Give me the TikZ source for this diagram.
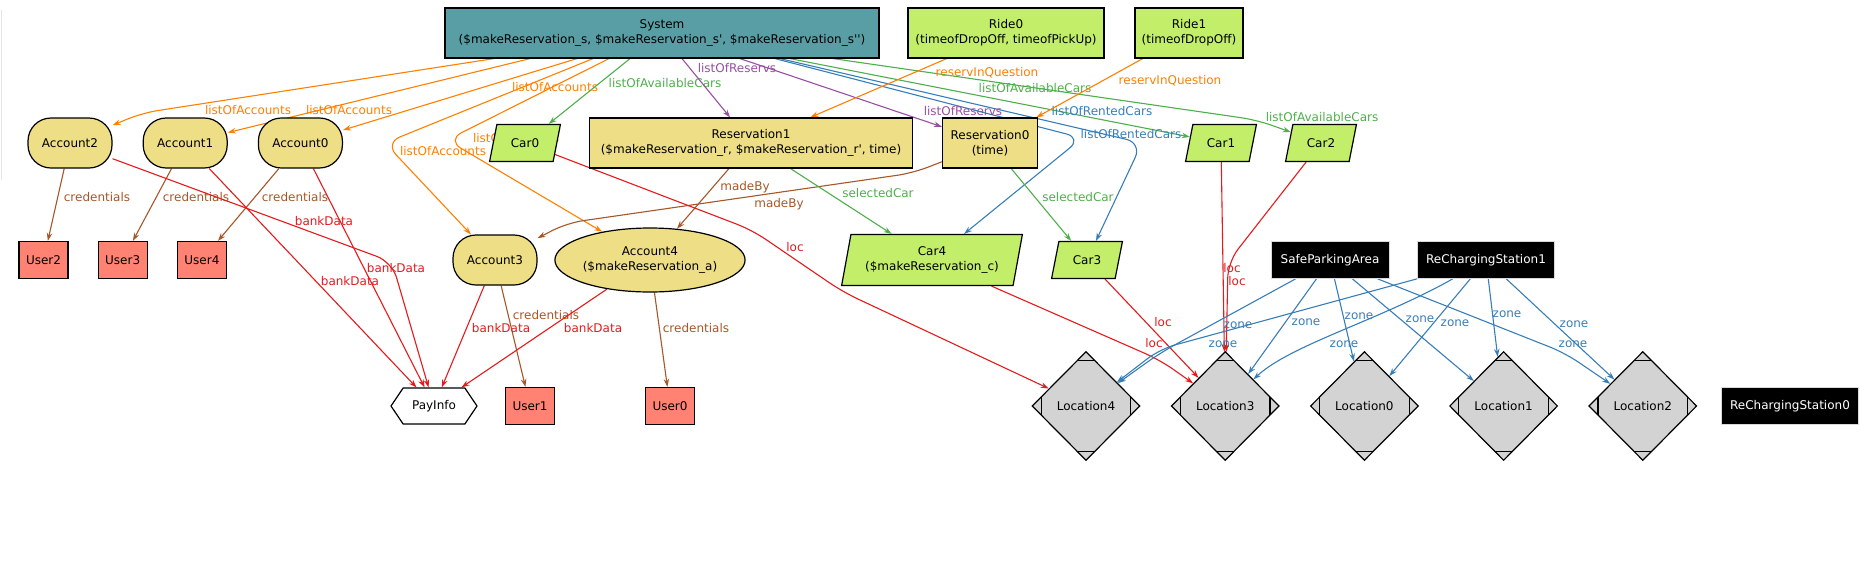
\documentclass[tikz,border=0pt]{standalone}
\usepackage{fontspec}
\setmainfont{DejaVu Sans}[Ligatures=TeXOff]
\usetikzlibrary{shapes.geometric,shapes.symbols,arrows.meta,positioning,backgrounds,calc}

\definecolor{systeal}{RGB}{90,158,165}
\definecolor{limegreen}{RGB}{194,238,106}
\definecolor{khaki}{RGB}{238,222,134}
\definecolor{salmon}{RGB}{255,130,115}
\definecolor{locgray}{RGB}{211,211,211}
\definecolor{eorange}{RGB}{255,127,0}
\definecolor{egreen}{RGB}{77,175,74}
\definecolor{epurple}{RGB}{152,78,163}
\definecolor{eblue}{RGB}{55,126,184}
\definecolor{ered}{RGB}{228,26,28}
\definecolor{ebrown}{RGB}{166,86,40}

\begin{document}
\begin{tikzpicture}[
    x=1pt, y=-1pt,
    font=\fontsize{12}{15}\selectfont,
    obj/.style={draw, line width=1.2pt, align=center, inner sep=2pt},
    sysbox/.style={obj, rectangle, fill=systeal, minimum width=434pt, minimum height=50pt},
    ridebox/.style={obj, rectangle, fill=limegreen, minimum height=50pt},
    resbox/.style={obj, rectangle, fill=khaki, minimum height=50pt},
    acct/.style={obj, rectangle, rounded corners=23pt, fill=khaki, minimum width=84pt, minimum height=50pt, inner sep=0pt},
    userbox/.style={obj, rectangle, fill=salmon, minimum width=49pt, minimum height=37pt, inner sep=0pt},
    carbox/.style={obj, trapezium, trapezium left angle=68, trapezium right angle=112, trapezium stretches=true, fill=limegreen, minimum width=71pt, minimum height=37pt, inner sep=0pt},
    zonebox/.style={rectangle, fill=black, text=white, draw=black!15, line width=0.8pt, minimum height=37pt, inner sep=4pt},
    paybox/.style={obj, signal, signal to=east and west, signal pointer angle=112, fill=white, minimum width=86pt, minimum height=36pt, inner sep=0pt},
    locbox/.style={obj, diamond, fill=locgray, minimum width=108pt, minimum height=109pt, inner sep=0pt,
        path picture={
            \draw[line width=1.2pt] ([yshift=-9pt]path picture bounding box.north) ++(-20pt,0) -- ++(40pt,0);
            \draw[line width=1.2pt] ([yshift=9pt]path picture bounding box.south) ++(-20pt,0) -- ++(40pt,0);
            \draw[line width=1.2pt] ([xshift=9pt]path picture bounding box.west) ++(0,-20pt) -- ++(0,40pt);
            \draw[line width=1.2pt] ([xshift=-9pt]path picture bounding box.east) ++(0,-20pt) -- ++(0,40pt);
        }},
    edge/.style={line width=1.1pt, rounded corners=16pt, -{Stealth[length=8pt,width=5.5pt]}},
    lbl/.style={inner sep=0pt}
]
\useasboundingbox (0,0) rectangle (1862,560);
\draw[black!10, line width=1pt] (1,10) -- (1,180);

% top row
\node[sysbox] (sys) at (662,33) {System\\(\$makeReservation\_s, \$makeReservation\_s', \$makeReservation\_s'')};
\node[ridebox, minimum width=196pt] (ride0) at (1006,33) {Ride0\\(timeofDropOff, timeofPickUp)};
\node[ridebox, minimum width=108pt] (ride1) at (1189,33) {Ride1\\(timeofDropOff)};

% accounts, reservations, cars
\node[acct] (acc2) at (70,143) {Account2};
\node[acct, right=30pt of acc2] (acc1) {Account1};
\node[acct, right=30pt of acc1] (acc0) {Account0};
\node[carbox] (car0) at (525,143) {Car0};
\node[resbox, minimum width=323pt] (res1) at (751,143) {Reservation1\\(\$makeReservation\_r, \$makeReservation\_r', time)};
\node[resbox, minimum width=95pt] (res0) at (990,143) {Reservation0\\(time)};
\node[carbox] (car1) at (1221,143) {Car1};
\node[carbox] (car2) at (1321,143) {Car2};

% users, accounts, zones
\node[userbox] (user2) at (43.5,260) {User2};
\node[userbox, right=29pt of user2] (user3) {User3};
\node[userbox, right=29pt of user3] (user4) {User4};
\node[acct] (acc3) at (495,260) {Account3};
\node[acct, ellipse, minimum width=166pt, minimum height=64pt] (acc4) at (650,260) {Account4\\(\$makeReservation\_a)};
\node[carbox, minimum width=181pt, minimum height=51pt, trapezium left angle=74, trapezium right angle=106] (car4) at (932,260) {Car4\\(\$makeReservation\_c)};
\node[carbox] (car3) at (1087,260) {Car3};
\node[zonebox, minimum width=118pt] (spa) at (1330,260) {SafeParkingArea};
\node[zonebox, minimum width=137pt] (rcs1) at (1486,260) {ReChargingStation1};

% bottom row
\node[paybox] (pay) at (434,406) {PayInfo};
\node[userbox] (user1) at (530,406) {User1};
\node[userbox] (user0) at (670,406) {User0};
\node[locbox] (loc4) at (1086,406) {Location4};
\node[locbox, right=30pt of loc4] (loc3) {Location3};
\node[locbox, right=30pt of loc3] (loc0) {Location0};
\node[locbox, right=30pt of loc0] (loc1) {Location1};
\node[locbox, right=30pt of loc1] (loc2) {Location2};
\node[zonebox, minimum width=137pt] (rcs0) at (1790,406) {ReChargingStation0};

\begin{scope}[on background layer]
% listOfAccounts
\draw[edge, eorange] ([xshift=-168pt]sys.south) -- (142,113) -- (acc2);
\draw[edge, eorange] ([xshift=-132pt]sys.south) -- (acc1);
\draw[edge, eorange] ([xshift=-85pt]sys.south) -- (acc0);
\draw[edge, eorange] ([xshift=-69pt]sys.south) -- (385,143) -- (acc3);
\draw[edge, eorange] ([xshift=-53pt]sys.south) -- (447,140) -- (acc4);
\node[lbl, text=eorange] (la1) at (248,110) {listOfAccounts};
\node[lbl, text=eorange] (la2) at (349,110) {listOfAccounts};
\node[lbl, text=eorange] (la3) at (555,87) {listOfAccounts};
\node[lbl, text=eorange] (la4) at (443,151) {listOfAccounts};
\node[lbl, text=eorange] (la5) at (516,138) {listOfAccounts};

% listOfAvailableCars
\draw[edge, egreen] ([xshift=-32pt]sys.south) -- (car0);
\draw[edge, egreen] ([xshift=128pt]sys.south) -- (car1);
\draw[edge, egreen] ([xshift=171pt]sys.south) -- (1257,120) -- (car2);
\node[lbl, text=egreen] (lv1) at (665,83) {listOfAvailableCars};
\node[lbl, text=egreen] (lv2) at (1035,88) {listOfAvailableCars};
\node[lbl, text=egreen] (lv3) at (1322,117) {listOfAvailableCars};

% listOfRentedCars
\draw[edge, eblue] ([xshift=113pt]sys.south) -- (1082,138) -- (car4);
\draw[edge, eblue] ([xshift=118pt]sys.south) -- (1142,143) -- (car3);
\node[lbl, text=eblue] (lr1) at (1102,111) {listOfRentedCars};
\node[lbl, text=eblue] (lr2) at (1131,134) {listOfRentedCars};

% listOfReservs
\draw[edge, epurple] ([xshift=20pt]sys.south) -- (res1);
\draw[edge, epurple] ([xshift=78pt]sys.south) -- (res0);
\node[lbl, text=epurple] (ls1) at (737,68) {listOfReservs};
\node[lbl, text=epurple] (ls2) at (963,111) {listOfReservs};

% reservInQuestion
\draw[edge, eorange] (ride0) -- (res1);
\draw[edge, eorange] (ride1) -- (res0);
\node[lbl, text=eorange] (lq1) at (987,73) {reservInQuestion};
\node[lbl, text=eorange] (lq2) at (1170,81) {reservInQuestion};

% madeBy
\draw[edge, ebrown] (res1) -- (acc4);
\draw[edge, ebrown] (res0) -- (913,173) -- (567,223) -- (acc3);
\node[lbl, text=ebrown] (lm1) at (745,187) {madeBy};
\node[lbl, text=ebrown] (lm2) at (779,204) {madeBy};

% selectedCar
\draw[edge, egreen] (res1) -- (car4);
\draw[edge, egreen] (res0) -- (car3);
\node[lbl, text=egreen] (lc1) at (878,193) {selectedCar};
\node[lbl, text=egreen] (lc2) at (1078,197) {selectedCar};

% credentials
\draw[edge, ebrown] (acc2) -- (user2);
\draw[edge, ebrown] (acc1) -- (user3);
\draw[edge, ebrown] (acc0) -- (user4);
\draw[edge, ebrown] (acc3) -- (user1);
\draw[edge, ebrown] (acc4) -- (user0);
\node[lbl, text=ebrown] (lu1) at (97,197) {credentials};
\node[lbl, text=ebrown] (lu2) at (196,197) {credentials};
\node[lbl, text=ebrown] (lu3) at (295,197) {credentials};
\node[lbl, text=ebrown] (lu4) at (546,315) {credentials};
\node[lbl, text=ebrown] (lu5) at (696,328) {credentials};

% bankData
\draw[edge, ered] (acc2) -- (392,262) -- (pay);
\draw[edge, ered] (acc1) -- (pay);
\draw[edge, ered] (acc0) -- (pay);
\draw[edge, ered] (acc3) -- (pay);
\draw[edge, ered] (acc4) -- (pay);
\node[lbl, text=ered] (lb1) at (324,221) {bankData};
\node[lbl, text=ered] (lb2) at (350,281) {bankData};
\node[lbl, text=ered] (lb3) at (396,268) {bankData};
\node[lbl, text=ered] (lb4) at (501,328) {bankData};
\node[lbl, text=ered] (lb5) at (593,328) {bankData};

% loc
\draw[edge, ered] (car0) -- (752,230) -- (843,292) -- (loc4);
\draw[edge, ered] (car4) -- (1160,360) -- (loc3);
\draw[edge, ered] (car3) -- (loc3);
\draw[edge, ered] (car1) -- (loc3);
\draw[edge, ered] (car2) -- (1228,262) -- (loc3);
\node[lbl, text=ered] (ll1) at (795,247) {loc};
\node[lbl, text=ered] (ll2) at (1154,343) {loc};
\node[lbl, text=ered] (ll3) at (1163,322) {loc};
\node[lbl, text=ered] (ll4) at (1232,268) {loc};
\node[lbl, text=ered] (ll5) at (1237,281) {loc};

% zone
\draw[edge, eblue] (spa) -- (1160,353) -- (loc4);
\draw[edge, eblue] (rcs1) -- (1160,349) -- (loc4);
\draw[edge, eblue] (spa) -- (loc3);
\draw[edge, eblue] (rcs1) .. controls (1380,320) and (1290,345) .. (loc3);
\draw[edge, eblue] (spa) -- (loc0);
\draw[edge, eblue] (rcs1) -- (loc0);
\draw[edge, eblue] (spa) -- (loc1);
\draw[edge, eblue] (rcs1) -- (loc1);
\draw[edge, eblue] (spa) -- (1565,353) -- (loc2);
\draw[edge, eblue] (rcs1) -- (loc2);
\node[lbl, text=eblue] (lz1) at (1238,325) {zone};
\node[lbl, text=eblue] (lz2) at (1223,344) {zone};
\node[lbl, text=eblue] (lz3) at (1306,322) {zone};
\node[lbl, text=eblue] (lz4) at (1359,316) {zone};
\node[lbl, text=eblue] (lz5) at (1420,319) {zone};
\node[lbl, text=eblue] (lz6) at (1573,344) {zone};
\node[lbl, text=eblue] (lz7) at (1344,344) {zone};
\node[lbl, text=eblue] (lz8) at (1455,323) {zone};
\node[lbl, text=eblue] (lz9) at (1507,314) {zone};
\node[lbl, text=eblue] (lz10) at (1574,324) {zone};
\end{scope}

\end{tikzpicture}
\end{document}
